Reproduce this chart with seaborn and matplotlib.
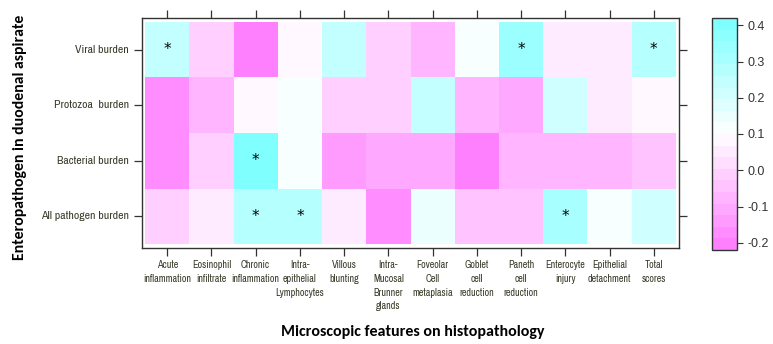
import numpy as np
import pandas as pd
import matplotlib
matplotlib.use("Agg")
import matplotlib.pyplot as plt
from matplotlib.colors import LinearSegmentedColormap
import seaborn as sns

# Data
features = ["Acute\ninflammation", "Eosinophil\ninfiltrate", "Chronic\ninflammation",
            "Intra-\nepithelial\nLymphocytes", "Villous\nblunting",
            "Intra-\nMucosal\nBrunner\nglands", "Foveolar\nCell\nmetaplasia",
            "Goblet\ncell\nreduction", "Paneth\ncell\nreduction", "Enterocyte\ninjury",
            "Epithelial\ndetachment", "Total\nscores"]
pathogens = ["Viral burden", "Protozoa  burden", "Bacterial burden", "All pathogen burden"]

viral = [0.25, -0.01, -0.19, 0.07, 0.25, -0.01, -0.07, 0.12, 0.33, 0.04, 0.04, 0.29]
protozoa = [-0.17, -0.07, 0.09, 0.11, -0.02, -0.02, 0.23, -0.07, -0.11, 0.20, 0.04, 0.08]
bacterial = [-0.17, -0.02, 0.40, 0.11, -0.13, -0.11, -0.11, -0.20, -0.07, -0.07, -0.07, -0.05]
all_pathogen = [0.00, 0.04, 0.28, 0.26, 0.04, -0.17, 0.14, -0.05, -0.05, 0.30, 0.11, 0.21]

# significant correlations marked with *
sig_viral = [1, 0, 0, 0, 0, 0, 0, 0, 1, 0, 0, 1]
sig_protozoa = [0] * 12
sig_bacterial = [0, 0, 1, 0, 0, 0, 0, 0, 0, 0, 0, 0]
sig_all = [0, 0, 1, 1, 0, 0, 0, 0, 0, 1, 0, 0]

df = pd.DataFrame([viral, protozoa, bacterial, all_pathogen], index=pathogens, columns=features)
sig = np.array([sig_viral, sig_protozoa, sig_bacterial, sig_all])
annot = np.where(sig == 1, "*", "")

# cm.colors style, magenta (low) -> white -> cyan (high)
cmap = LinearSegmentedColormap.from_list("cm", ["#FF80FF", "#FFFFFF", "#80FFFF"], N=20)

fig = plt.figure(figsize=(7.73, 3.44), dpi=100)
ax = fig.add_axes([142 / 773, 1 - 248 / 344, 537 / 773, 230 / 344])
cax = fig.add_axes([712 / 773, 1 - 250 / 344, 25 / 773, 232 / 344])

sns.heatmap(df, ax=ax, cbar_ax=cax, cmap=cmap, vmin=-0.22, vmax=0.42,
            annot=annot, fmt="", annot_kws={"color": "black", "fontsize": 11})

ax.set_xlim(-0.07, 12.07)
ax.set_ylim(4.07, -0.07)
for s in ax.spines.values():
    s.set_visible(True)
    s.set_linewidth(1.0)
    s.set_color("#333333")

narrow = ["Archivo Narrow", "Liberation Sans", "DejaVu Sans"]
ax.tick_params(axis="both", direction="out", length=6, width=0.9, color="#333333",
               top=True, right=True, labeltop=False, labelright=False)
ax.tick_params(axis="x", pad=3)
ax.set_xticklabels(features, rotation=0, ha="center", fontsize=7.3, family=narrow,
                   color="#3a3a2a", linespacing=1.45)
ax.set_yticklabels(pathogens, rotation=0, fontsize=8.5, family=narrow, color="#3a3a2a")
ax.set_xlabel("")
ax.set_ylabel("")

cbar = ax.collections[0].colorbar
cbar.set_ticks([-0.2, -0.1, 0.0, 0.1, 0.2, 0.3, 0.4])
cbar.set_ticklabels(["-0.2", "-0.1", "0.0", "0.1", "0.2", "0.3", "0.4"])
cbar.ax.tick_params(length=4, width=0.8, labelsize=9, color="#333333", labelcolor="#333333")
for lab in cbar.ax.get_yticklabels():
    lab.set_family("Liberation Sans")
cbar.outline.set_visible(True)
cbar.outline.set_linewidth(1.0)
cbar.outline.set_edgecolor("#333333")

bold_font = ["Carlito", "Open Sans", "DejaVu Sans"]
fig.text(20 / 773, 1 - 137 / 344, "Enteropathogen in duodenal aspirate", rotation=90,
         ha="center", va="center", fontsize=11.3, fontweight="bold", family=bold_font)
fig.text(413 / 773, 1 - 332 / 344, "Microscopic features on histopathology",
         ha="center", va="center", fontsize=11.5, fontweight="bold", family=bold_font)

fig.savefig("out.png", dpi=100)
